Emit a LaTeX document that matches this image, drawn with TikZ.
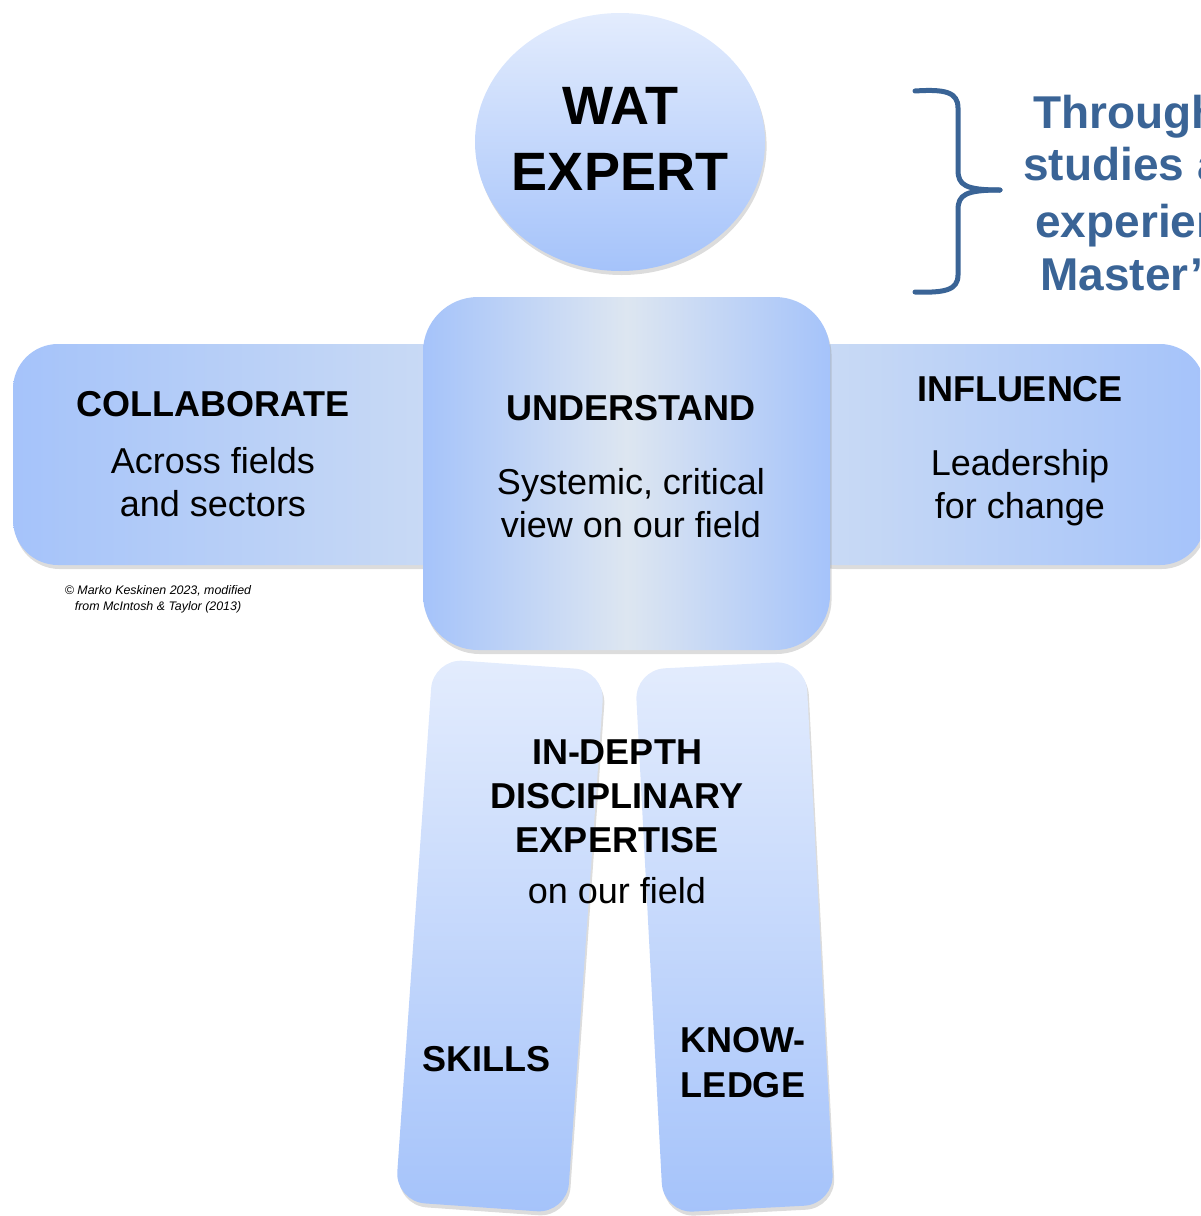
\documentclass[tikz,border=0pt]{standalone}
\usepackage{fontspec}
\setmainfont{Liberation Sans}
\usetikzlibrary{shapes.geometric,shadows}

\definecolor{limbblue}{HTML}{A5C3FA}
\definecolor{limblight}{HTML}{E3ECFD}
\definecolor{armlight}{HTML}{CCDCF4}
\definecolor{bodymid}{HTML}{DDE6F1}
\definecolor{bracecol}{HTML}{3A6496}

\tikzset{
  limb/.style={draw=none, inner sep=0pt,
    drop shadow={opacity=0.28, shadow xshift=0.8pt, shadow yshift=-2pt}},
  headline/.style={font=\bfseries\fontsize{18}{21.5}\selectfont, align=center, anchor=base, inner sep=0pt},
  bodyline/.style={font=\fontsize{18}{21.5}\selectfont, align=center, anchor=base, inner sep=0pt},
  sideline/.style={font=\bfseries\fontsize{23}{27}\selectfont, text=bracecol, anchor=base west, inner sep=0pt},
}

\begin{document}
\begin{tikzpicture}[x=0.5pt, y=-0.5pt]
  \path[use as bounding box, clip] (0,0) rectangle (1200,1216);

  % arms
  \node[limb, rectangle, rounded corners=22.5pt, minimum width=228.5pt, minimum height=110.5pt,
    left color=limbblue, right color=armlight] (leftarm) at (241.5,454.5) {};
  \node[limb, rectangle, rounded corners=22.5pt, minimum width=207.5pt, minimum height=110.5pt,
    left color=armlight, right color=limbblue] (rightarm) at (997.5,454.5) {};

  % legs
  \node[limb, rectangle, rounded corners=15pt, minimum width=86pt, minimum height=272pt, rotate=-4,
    top color=limblight, bottom color=limbblue] (leftleg) at (500,936) {};
  \node[limb, rectangle, rounded corners=15pt, minimum width=85.5pt, minimum height=272pt, rotate=3,
    top color=limblight, bottom color=limbblue] (rightleg) at (734.5,937) {};

  % body and head
  \node[limb, rectangle, rounded corners=27.5pt, minimum width=203.5pt, minimum height=176.5pt,
    left color=limbblue, right color=limbblue, middle color=bodymid] (body) at (626.5,473.5) {};
  \node[limb, ellipse, minimum width=145pt, minimum height=129pt,
    top color=limblight, bottom color=limbblue] (head) at (620,142) {};
  \node[font=\bfseries\fontsize{27}{33}\selectfont, align=center, inner sep=0pt] (headtext)
    at ([yshift=1.5pt]head.center) {WAT\\EXPERT};

  % texts (multi-line nodes sit on the baseline of their last line)
  \node[headline] (collab) at (213,416) {COLLABORATE};
  \node[bodyline] (collabtext) at (213,516) {Across fields\\and sectors};
  \node[headline] (understand) at (631,420) {UNDERSTAND};
  \node[bodyline] (understandtext) at (631,537) {Systemic, critical\\view on our field};
  \node[headline] (influence) at (1020,401) {INFLUENCE};
  \node[bodyline] (influencetext) at (1020,518) {Leadership\\for change};
  \node[headline, font=\bfseries\fontsize{18}{22}\selectfont] (depth) at (617,852) {IN-DEPTH\\DISCIPLINARY\\EXPERTISE};
  \node[bodyline] (depthtext) at (617,903) {on our field};
  \node[headline] (skills) at (486,1071) {SKILLS};
  \node[headline, font=\bfseries\fontsize{18}{22.5}\selectfont] (knowledge) at (743,1097) {KNOW-\\LEDGE};

  \node[font=\itshape\fontsize{6.2}{8}\selectfont, align=center, anchor=base, inner sep=0pt] (credit)
    at (158,610) {\textcopyright{} Marko Keskinen 2023, modified\\from McIntosh \& Taylor (2013)};

  % brace and side text
  \draw[bracecol, line width=2.5pt, line cap=round]
    (915,91) .. controls (945,89) and (958,92) .. (958,108) -- (958,170)
    .. controls (958,185) and (965,190) .. (1000,190);
  \draw[bracecol, line width=2.5pt, line cap=round]
    (1000,190) .. controls (965,190) and (958,195) .. (958,210) -- (958,275)
    .. controls (958,290) and (945,293) .. (915,292);
  \node[sideline] (side1) at (1033,128) {Through};
  \node[sideline] (side2) at (1023,180) {studies a};
  \node[sideline] (side3) at (1035,237) {experien};
  \node[sideline] (side4) at (1040,290) {Master’};
\end{tikzpicture}
\end{document}
